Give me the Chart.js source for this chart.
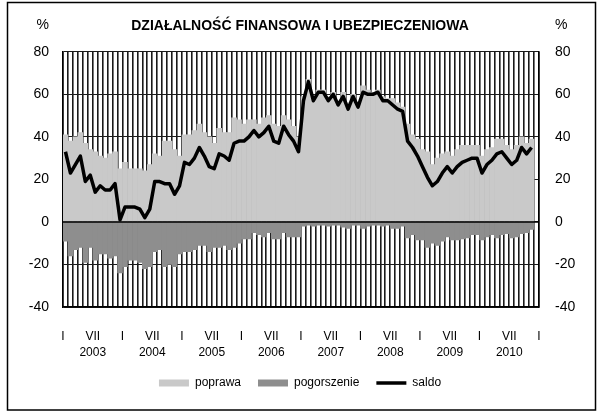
<!DOCTYPE html>
<html lang="pl">
<head>
<meta charset="utf-8">
<title>Działalność finansowa i ubezpieczeniowa</title>
<script src="https://cdn.jsdelivr.net/npm/chart.js@4.4.1/dist/chart.umd.min.js"></script>
<style>
  html, body { margin: 0; padding: 0; background: #fff; }
  canvas { display: block; }
</style>
</head>
<body>
<canvas id="wykres" width="600" height="417"></canvas>
<script>
// dane (miesięcznie, I 2003 - XI 2010)
const lata = ['2003', '2004', '2005', '2006', '2007', '2008', '2009', '2010'];
const miesiace = ['I', 'II', 'III', 'IV', 'V', 'VI', 'VII', 'VIII', 'IX', 'X', 'XI', 'XII'];

const poprawa = [
    41, 38, 40, 42, 37, 34, 33, 31, 30, 32, 33, 25,
    28, 25, 25, 25, 24, 27, 32, 31, 38, 38, 34, 31,
    41, 41, 43, 46, 42, 40, 37, 44, 42, 42, 49, 48,
    46, 48, 48, 46, 49, 50, 46, 45, 50, 48, 45, 40,
    59, 67, 59, 62, 62, 59, 61, 56, 61, 56, 60, 55,
    64, 62, 61, 62, 59, 58, 58, 56, 54, 46, 41, 39,
    34, 33, 27, 30, 32, 33, 31, 34, 36, 36, 36, 36,
    31, 34, 35, 39, 39, 36, 34, 36, 40, 37, 39
];
const pogorszenie = [
    -9, -16, -13, -12, -19, -12, -18, -15, -15, -17, -16, -24,
    -21, -18, -18, -19, -22, -21, -14, -13, -21, -20, -21, -15,
    -14, -14, -13, -11, -11, -14, -12, -12, -11, -13, -12, -10,
    -8, -8, -5, -6, -7, -5, -8, -8, -5, -7, -7, -7,
    -2, -1.5, -2, -1.5, -1.5, -2, -1.5, -1.5, -2.5, -3, -1.5, -1.5,
    -3, -2, -1.5, -1.5, -2, -1.5, -3, -3, -2, -7.5, -6, -8.5,
    -8.5, -12, -10, -11, -9, -7, -8.5, -8.5, -8, -7.5, -6, -6,
    -8.5, -7, -6, -7.5, -6, -5.5, -7.5, -7, -5.5, -5, -3.5
];
const saldo = [
    33, 23, 27, 31, 19, 22, 14, 17, 15, 15, 18, 1,
    7, 7, 7, 6, 2, 6, 19, 19, 18, 18, 13, 17,
    28, 27, 30, 35, 31, 26, 25, 32, 31, 29, 37, 38,
    38, 40, 43, 40, 42, 45, 38, 37, 45, 41, 38, 33,
    57, 66, 57, 61, 61, 57, 60, 55, 59, 53, 59, 54,
    61, 60, 60, 61, 57, 57, 55, 53, 52, 38, 35, 31,
    26, 21, 17, 19, 23, 26, 23, 26, 28, 29, 30, 30,
    23, 27, 29, 32, 33, 30, 27, 29, 35, 32, 35
];

const kategorie = lata.flatMap(rok => miesiace.map(m => m + ' ' + rok));

const FONT = "'Liberation Sans', Arial, sans-serif";

// ramka, linia zera i znaki % nad osiami
const dodatki = {
    id: 'dodatki',
    beforeDraw(chart) {
        const c = chart.ctx;
        c.save();
        c.fillStyle = '#fff';
        c.fillRect(0, 0, chart.width, chart.height);
        c.strokeStyle = '#000';
        c.lineWidth = 1.5;
        c.strokeRect(7.5, 2.5, 588, 407.5);
        c.restore();
    },
    afterDatasetDraw(chart, args) {
        if (args.index !== 1) return;
        const c = chart.ctx;
        const y = chart.scales.y.getPixelForValue(0);
        c.save();
        c.strokeStyle = '#000';
        c.lineWidth = 1.5;
        c.beginPath();
        c.moveTo(chart.chartArea.left, y);
        c.lineTo(chart.chartArea.right, y);
        c.stroke();
        c.restore();
    },
    afterDraw(chart) {
        const c = chart.ctx;
        c.save();
        c.fillStyle = '#000';
        c.font = '14px ' + FONT;
        c.textBaseline = 'middle';
        c.textAlign = 'right';
        c.fillText('%', chart.scales.y.right - 14, 25);
        c.textAlign = 'left';
        c.fillText('%', chart.scales.y2.left + 16, 25);
        c.restore();
    }
};

const tickFont = { family: FONT, size: 14 };

new Chart(document.getElementById('wykres'), {
    data: {
        labels: kategorie,
        datasets: [
            {
                type: 'bar',
                label: 'poprawa',
                data: poprawa,
                backgroundColor: '#c9c9c9',
                borderWidth: 0,
                categoryPercentage: 1,
                barPercentage: 1,
                grouped: false,
                pointStyle: 'rect',
                order: 2,
                xAxisID: 'x',
                yAxisID: 'y'
            },
            {
                type: 'bar',
                label: 'pogorszenie',
                data: pogorszenie,
                backgroundColor: '#8e8e8e',
                borderWidth: 0,
                categoryPercentage: 1,
                barPercentage: 1,
                grouped: false,
                pointStyle: 'rect',
                order: 1,
                xAxisID: 'x',
                yAxisID: 'y'
            },
            {
                type: 'line',
                label: 'saldo',
                data: saldo,
                borderColor: '#000',
                backgroundColor: '#000',
                borderWidth: 3.5,
                borderJoinStyle: 'round',
                pointRadius: 0,
                tension: 0,
                pointStyle: 'line',
                order: 0,
                xAxisID: 'x',
                yAxisID: 'y'
            }
        ]
    },
    options: {
        responsive: false,
        animation: false,
        layout: { padding: { bottom: 18 } },
        plugins: {
            title: {
                display: true,
                text: 'DZIAŁALNOŚĆ FINANSOWA I UBEZPIECZENIOWA',
                color: '#000',
                font: { family: FONT, size: 14, weight: 'bold' },
                padding: { top: 18, bottom: 17 }
            },
            legend: {
                position: 'bottom',
                labels: {
                    usePointStyle: true,
                    pointStyleWidth: 30,
                    boxHeight: 7,
                    padding: 17,
                    color: '#000',
                    font: { family: FONT, size: 12 },
                    sort: (a, b) => a.datasetIndex - b.datasetIndex
                }
            },
            tooltip: { enabled: false }
        },
        scales: {
            x: { type: 'category', display: false, offset: true },
            xl: {
                type: 'linear',
                position: 'bottom',
                min: 0,
                max: 96,
                grid: { color: '#1a1a1a', lineWidth: 1.6, drawTicks: false },
                border: { color: '#000', width: 1.5 },
                ticks: {
                    stepSize: 1,
                    autoSkip: false,
                    maxRotation: 0,
                    padding: 22,
                    color: '#000',
                    font: { family: FONT, size: 12, lineHeight: 1.3 },
                    callback: (v) => {
                        if (v % 12 === 0) return miesiace[0];
                        if (v % 12 === 6) return [miesiace[6], lata[Math.floor(v / 12)]];
                        return '';
                    }
                },
                afterFit: (s) => { s.height = 53; }
            },
            y: {
                position: 'left',
                min: -40,
                max: 80,
                ticks: { stepSize: 20, padding: 14, color: '#000', font: tickFont },
                grid: { color: '#1a1a1a', lineWidth: 1, drawTicks: false },
                border: { color: '#000', width: 1.5 },
                afterFit: (s) => { s.width = 63; }
            },
            y2: {
                position: 'right',
                min: -40,
                max: 80,
                ticks: { stepSize: 20, padding: 16, color: '#000', font: tickFont },
                grid: { display: false, drawTicks: false },
                border: { color: '#000', width: 1.5 },
                afterFit: (s) => { s.width = 61; }
            }
        }
    },
    plugins: [dodatki]
});
</script>
</body>
</html>
